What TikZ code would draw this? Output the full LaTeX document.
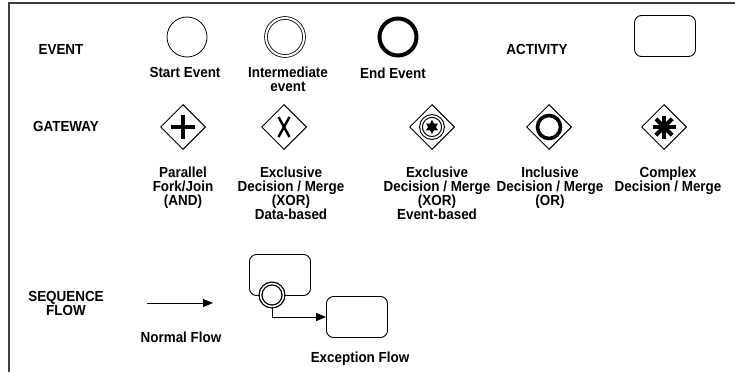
\documentclass[tikz,border=0pt]{standalone}
\usepackage{fontspec}
\setmainfont{Liberation Sans}[FakeStretch=0.92]
\usetikzlibrary{shapes.geometric,arrows.meta}
\begin{document}
\begin{tikzpicture}[x=1pt,y=-1pt,
  lbl/.style={font=\fontsize{14.6}{14}\selectfont\bfseries, align=center, inner sep=0pt, anchor=north},
  evt/.style={circle, draw, minimum size=40pt, inner sep=0pt, line width=0.8pt},
  act/.style={rectangle, rounded corners=7pt, draw, minimum width=61pt, minimum height=41pt, line width=0.9pt, fill=white},
  gw/.style={diamond, draw, minimum width=45pt, minimum height=45pt, inner sep=0pt, line width=1pt},
  frame/.style={draw=black!75, line width=2pt},
  flow/.style={-{Triangle[length=10pt,width=8pt]}, line width=1pt}]

\useasboundingbox (0,0) rectangle (735,372);

% frame along the top and left edges
\draw[frame] (735,2.5) -- (8.5,2.5) -- (8.5,372);

% ---- events and activity
\node[lbl] (evtitle) at (61,44.5) {EVENT};
\node[evt] (start) at (187,37) {};
\node[evt, double, double distance=2pt, minimum size=38pt] (inter) at (285,37) {};
\node[evt, line width=4pt, minimum size=37pt] (end) at (398,37) {};
\node[lbl] (startlbl) at (185,67.5) {Start Event};
\node[lbl] (interlbl) at (288,66.5) {Intermediate\\event};
\node[lbl] (endlbl) at (393,67.5) {End Event};
\node[lbl] (acttitle) at (537,44.5) {ACTIVITY};
\node[act] (act) at (665,36) {};

% ---- gateways
\node[lbl] (gwtitle) at (66,121.5) {GATEWAY};
\node[gw] (g1) at (183,127) {};
\node[gw] (g2) at (284,127) {};
\node[gw] (g3) at (432,127) {};
\node[gw] (g4) at (549,127) {};
\node[gw] (g5) at (664,127) {};

% parallel: plus
\draw[line width=4.5pt] ([xshift=-12pt]g1.center) -- ([xshift=12pt]g1.center)
  ([yshift=-12pt]g1.center) -- ([yshift=12pt]g1.center);
% exclusive data-based: narrow X
\draw[line width=2.4pt] ([shift={(-5.5pt,-10pt)}]g2.center) -- ([shift={(5.5pt,10pt)}]g2.center)
  ([shift={(5.5pt,-10pt)}]g2.center) -- ([shift={(-5.5pt,10pt)}]g2.center);
% exclusive event-based: double ring with star
\draw[line width=1.1pt, double, double distance=1.6pt] (g3.center) circle[radius=11pt];
\node[star, star points=6, star point ratio=1.8, fill, inner sep=0pt, minimum size=14pt] (g3star) at (g3.center) {};
% inclusive: thick ring
\draw[line width=3.6pt] (g4.center) circle[radius=11.5pt];
% complex: asterisk
\foreach \a in {0,45,90,135}
  \draw[line width=4pt] ([shift={(\a:11.5pt)}]g5.center) -- ([shift={(\a+180:11.5pt)}]g5.center);

\node[lbl] (g1lbl) at (183,167) {Parallel\\Fork/Join\\(AND)};
\node[lbl] (g2lbl) at (291,167) {Exclusive\\Decision / Merge\\(XOR)\\Data-based};
\node[lbl] (g3lbl) at (437,167) {Exclusive\\Decision / Merge\\(XOR)\\Event-based};
\node[lbl] (g4lbl) at (550,167) {Inclusive\\Decision / Merge\\(OR)};
\node[lbl] (g5lbl) at (668,167) {Complex\\Decision / Merge};

% ---- sequence flow
\node[lbl] (sqtitle) at (66,291.5) {SEQUENCE\\FLOW};
\coordinate (nfa) at (147,303);
\coordinate (nfb) at (213,303);
\draw[flow] (nfa) -- (nfb);
\node[lbl] (nflbl) at (181,331.5) {Normal Flow};

\node[act] (src) at (280,275) {};
\node[act] (dst) at (357,317) {};
\node[circle, draw, fill=white, line width=1.3pt, double, double distance=1.5pt, minimum size=23pt, inner sep=0pt] (attach) at (272,295) {};
\draw[flow] (attach.south) |- (dst.west);
\node[lbl] (exlbl) at (360,351.5) {Exception Flow};
\end{tikzpicture}
\end{document}
